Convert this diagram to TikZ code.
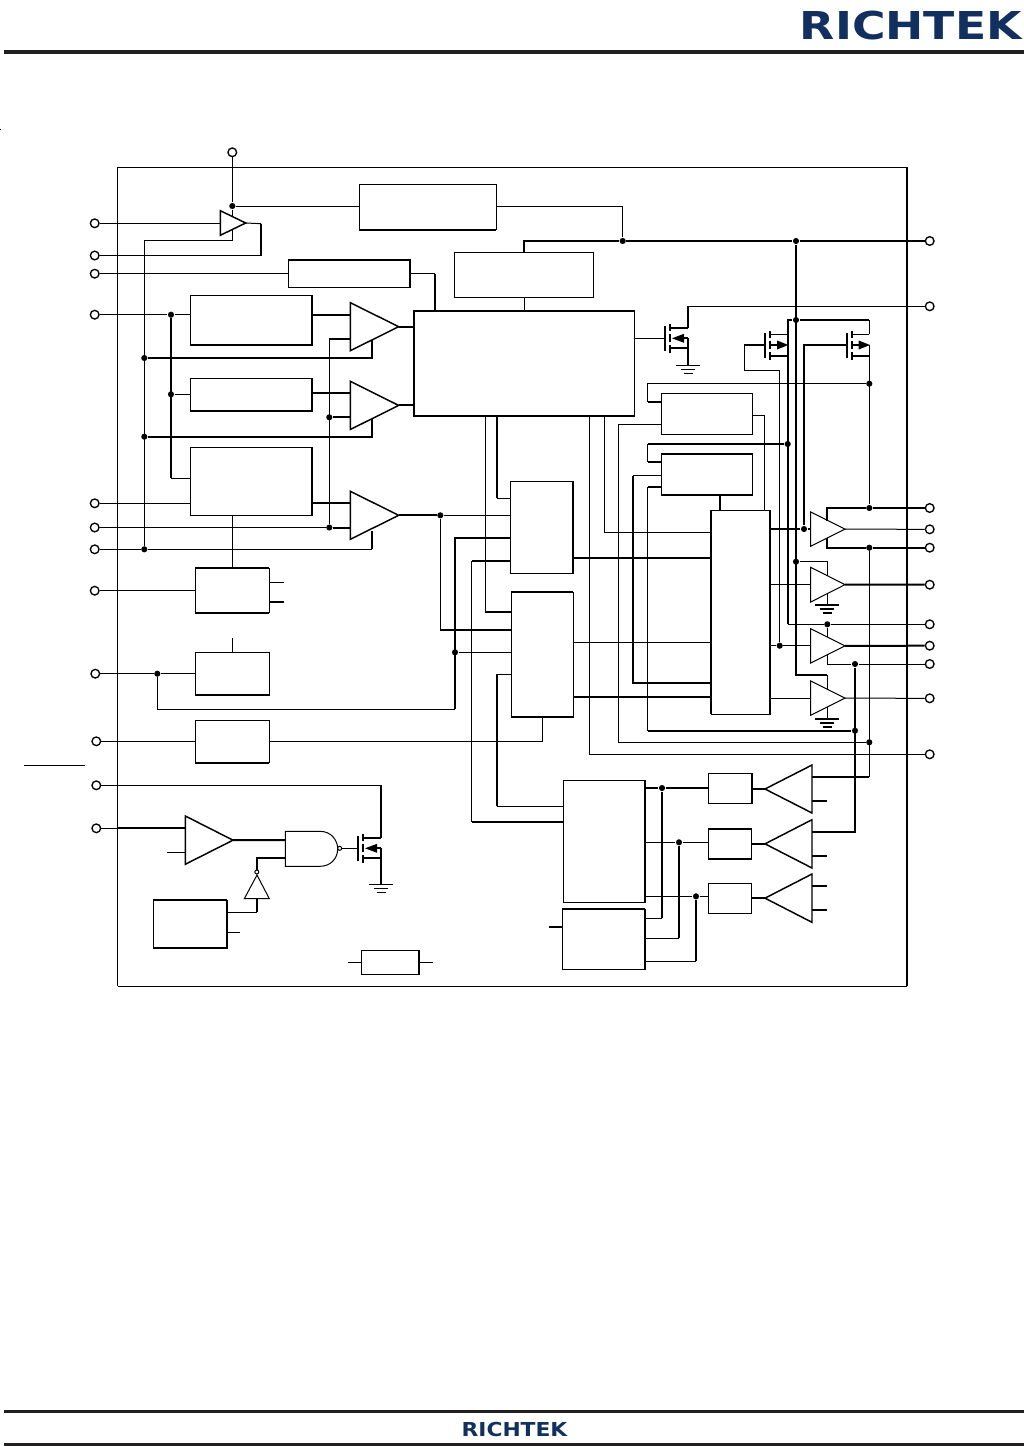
\documentclass[tikz,border=0pt]{standalone}
\usepackage{fontspec}
\newfontfamily\logofont{DejaVu Sans}[BoldFont={DejaVu Sans Bold}]
\definecolor{logonavy}{RGB}{18,48,95}
\definecolor{ruleblack}{RGB}{35,31,32}
\tikzset{every picture/.style={line width=0.75pt}}
\tikzset{
  hvy/.style={line width=1.5pt},
  mid/.style={line width=1.1pt},
  blk/.style={draw,rectangle,inner sep=0pt,outer sep=0pt},
  ghost/.style={rectangle,inner sep=0pt,outer sep=0pt},
  pin/.style={draw,circle,fill=white,inner sep=0pt,minimum size=6.5pt,line width=1pt},
  jn/.style={circle,fill=black,inner sep=0pt,minimum size=4.6pt},
  bub/.style={draw,circle,fill=white,inner sep=0pt,minimum size=3pt},
}
% boxes and amplifiers: name, x1, y1, x2, y2
\newcommand\blkbox[5]{\node[blk,minimum width={(#4-#2)*0.75pt},minimum height={(#5-#3)*0.75pt}] (#1) at ({(#2+#4)/2},{(#3+#5)/2}) {};}
\newcommand\ampbox[5]{\node[ghost,minimum width={(#4-#2)*0.75pt},minimum height={(#5-#3)*0.75pt}] (#1) at ({(#2+#4)/2},{(#3+#5)/2}) {};}
\newcommand\ampR[6][mid]{\ampbox{#2}{#3}{#4}{#5}{#6}\draw[#1] (#2.north west) -- (#2.east) -- (#2.south west) -- cycle;}
\newcommand\ampL[6][mid]{\ampbox{#2}{#3}{#4}{#5}{#6}\draw[#1] (#2.north east) -- (#2.west) -- (#2.south east) -- cycle;}
\newcommand\thickedge[1]{\draw[hvy] (#1.north east) -- (#1.south east) -- (#1.south west);}
% ground: x, y
\newcommand\gnd[3][]{\draw[#1] (#2-12,#3) -- (#2+12,#3) (#2-7,#3+4) -- (#2+7,#3+4) (#2-4.5,#3+8) -- (#2+4.5,#3+8);}
% transistor bodies: x of gate plate, y of centre
\newcommand\fetbody[2]{%
  \draw[hvy] (#1,#2-12) -- (#1,#2+13);
  \draw[hvy] (#1+5,#2-14) -- (#1+5,#2-7) (#1+5,#2-4) -- (#1+5,#2+4) (#1+5,#2+7) -- (#1+5,#2+15);}
\newcommand\fetN[2]{\fetbody{#1}{#2}
  \draw[hvy] (#1+5,#2-10.7) -- (#1+23,#2-10.7) (#1+5,#2+10) -- (#1+23,#2+10) (#1+19,#2) -- (#1+23,#2);
  \fill (#1+7,#2) -- (#1+19,#2-4.5) -- (#1+19,#2+4.5) -- cycle;}
\newcommand\fetP[2]{\fetbody{#1}{#2}
  \draw[hvy] (#1+5,#2) -- (#1+12,#2) (#1+5,#2+11) -- (#1+22.4,#2+11);
  \draw (#1+5,#2-10.7) -- (#1+22.4,#2-10.7);
  \fill (#1+23,#2) -- (#1+11.7,#2-4.5) -- (#1+11.7,#2+4.5) -- cycle;}

\begin{document}
\begin{tikzpicture}[x=0.75pt,y=0.75pt,yscale=-1,xscale=1]
\useasboundingbox (0,0) rectangle (1024,1446);

% page furniture
\fill[ruleblack] (4,50.2) rectangle (1024,54);
\fill[ruleblack] (4,1410.2) rectangle (1024,1412.8);
\fill[ruleblack] (4,1442.6) rectangle (1024,1446);
\node[text=logonavy,inner sep=0pt,xscale=1.19] (logoTop) at (910.8,26) {\logofont\bfseries\fontsize{28.8}{28.8}\selectfont RICHTEK};
\node[text=logonavy,inner sep=0pt,xscale=1.135] (logoBot) at (514.5,1429.7) {\logofont\bfseries\fontsize{14.4}{14.4}\selectfont RICHTEK};
\draw (24,765.3) -- (84.7,765.3);
\fill (0,128.6) rectangle (1.3,130);

% frame
\draw (117.5,986.3) -- (117.5,167.3) -- (907,167.3);
\draw[hvy] (907,167.3) -- (907,986.3);
\draw[mid] (907,986.3) -- (117.5,986.3);

% Blocks
\blkbox{blkBias}{359.3}{184.3}{496}{229.7}
\blkbox{blkLdo}{454.5}{252.3}{593.7}{297.3}
\blkbox{blkOsc}{288.3}{260}{410}{287}
\blkbox{blkRampA}{190.3}{295.3}{312}{345}
\blkbox{blkRampB}{190.3}{378.3}{312}{410.7}
\blkbox{blkRampC}{190.3}{447.3}{312}{515.3}
\blkbox{blkRef}{195.3}{568.3}{269.3}{612.7}
\blkbox{blkUvlo}{195.3}{652.3}{269.3}{695}
\blkbox{blkSs}{195.3}{720.3}{269.3}{762.7}
\blkbox{blkThermal}{153.3}{900}{227}{948}
\blkbox{blkRes}{361.7}{950.3}{419}{974.3}
\blkbox{blkCtl}{414}{311}{634.7}{416}
\blkbox{blkLogA}{510.3}{481.3}{573}{573.3}
\blkbox{blkLogB}{511.3}{592.3}{573.3}{717}
\blkbox{blkDrvA}{661.3}{393.3}{752.7}{434.3}
\blkbox{blkDrvB}{661.3}{454}{752.7}{495}
\blkbox{blkDrvC}{711}{510.3}{770}{714.3}
\blkbox{blkDac}{563.3}{780.3}{645}{902.3}
\blkbox{blkPwm}{562.3}{909}{645}{969.3}
\blkbox{blkOutA}{708.3}{773.3}{752.3}{803.3}
\blkbox{blkOutB}{708.3}{829}{751.7}{858.7}
\blkbox{blkOutC}{708.3}{883.3}{751.7}{913.3}
\thickedge{blkRampA}
\thickedge{blkRampB}
\draw[hvy] (blkRampC.north east) -- (blkRampC.south east);
\draw[hvy] (blkBias.south west) -- (blkBias.south east);
\draw[hvy] (blkOsc.north west) -- (blkOsc.north east) -- (blkOsc.south east);
\draw[hvy] (blkRef.north west) -- (blkRef.north east);
\draw[hvy] (blkRef.south west) -- (blkRef.south east);
\draw[hvy] (blkUvlo.south west) -- (blkUvlo.south east);
\draw[hvy] (blkSs.south west) -- (blkSs.south east);
\draw[hvy] (blkThermal.north west) -- (blkThermal.north east);
\thickedge{blkThermal}
\draw[mid] (blkRes.north east) -- (blkRes.south east) -- (blkRes.south west);
\draw[hvy] (blkCtl.north east) -- (blkCtl.north west) -- (blkCtl.south west) -- (blkCtl.south east);
\draw[hvy] (blkLogA.north east) -- (blkLogA.south east);
\draw[hvy] (blkLogB.north west) -- (blkLogB.north east);
\draw[hvy] (blkLogB.south west) -- (blkLogB.south east);
\draw[hvy] (blkDrvB.north west) -- (blkDrvB.north east);
\draw[hvy] (blkDrvB.south west) -- (blkDrvB.south east);
\draw[hvy] (blkDrvC.north east) -- (blkDrvC.south east);
\draw[hvy] (blkDrvC.north west) -- (blkDrvC.south west);
\draw[hvy] (blkDac.north east) -- (blkDac.south east);
\draw[hvy] (blkPwm.north west) -- (blkPwm.north east);
\draw[hvy] (blkPwm.north east) -- (blkPwm.south east);
\draw[hvy] (blkOutA.north east) -- (blkOutA.south east);
\draw[hvy] (blkOutB.north west) -- (blkOutB.north east);
\draw[hvy] (blkOutB.south west) -- (blkOutB.south east);

% Amplifiers
\ampR{ampS}{220.3}{210.7}{245.7}{235.3}
\ampR{cmpA}{350.3}{302.7}{398.7}{350.7}
\ampR{cmpB}{350.3}{381.3}{398.7}{429.5}
\ampR{cmpC}{350.3}{491.3}{398.7}{539.3}
\ampR{cmpD}{185.3}{816}{233}{864.3}
\ampR[draw]{bufA}{810.7}{512}{845}{546.3}
\ampR[draw]{bufB}{810.7}{567.3}{845}{602}
\ampR[draw]{bufC}{810.7}{628.7}{845}{663}
\ampR[draw]{bufD}{810.7}{681}{845}{715.3}
\ampL{drvA}{765}{765}{812}{813}
\ampL{drvB}{765}{819.7}{812}{868}
\ampL{drvC}{765}{874}{812}{922.3}

% Pins
\node[pin] (pinTop) at (232.3,152.3) {};
\node[pin] (pinA) at (94.7,223.3) {};
\node[pin] (pinB) at (94.7,255.5) {};
\node[pin] (pinC) at (94.7,273.7) {};
\node[pin] (pinD) at (94.7,314.7) {};
\node[pin] (pinE) at (94.7,503.3) {};
\node[pin] (pinF) at (94.7,527.5) {};
\node[pin] (pinG) at (94.7,549.3) {};
\node[pin] (pinH) at (94.7,590.7) {};
\node[pin] (pinI) at (95.3,673.7) {};
\node[pin] (pinJ) at (96.3,741.3) {};
\node[pin] (pinK) at (96.3,785.3) {};
\node[pin] (pinL) at (96.3,828.3) {};
\foreach \name/\ypos in {R1/241,R2/306.3,R3/508,R4/529.3,R5/547.7,R6/584.7,R7/624.3,R8/645.7,R9/664,R10/698.3,R11/754.3}
  \node[pin] (pin\name) at (929.7,\ypos) {};

% Junctions
\foreach \name/\xpos/\ypos in {jSup/232.3/206,jRail/622.7/241,jVdd/796/241,jVddB/796/320,jBusA/144.3/358,
    jBusB/144.3/436.7,jBusC/144.3/549.3,jInA/171/314.7,jInB/171/394.3,jRefA/329.3/417.3,jRefB/329.3/527.5,
    jCmp/440.3/515.3,jEn/455/652.3,jUv/157.3/673.7,jGa/662/788,jGb/679/842.3,jGc/696/896.3,jFb/869.3/383.7,
    jOutA/869.3/508,jOutB/869.3/547.7,jDrv/787.7/444,jGate/804/529,jVb/796/561.7,jTop/827.3/624.3,
    jHs/779.7/645.7,jSen/855/664,jSenB/855/730.7,jFbB/869.3/742.3}
  \node[jn] (\name) at (\xpos,\ypos) {};

% Top left wires
\draw (pinTop) -- (jSup);
\draw (jSup) -- (232.3,216.8);
\draw (jSup) -- (blkBias.west |- jSup);
\draw (blkBias.east |- jSup) -| (jRail);
\draw[hvy] (blkLdo.north) |- (jRail) -- (jVdd) -- (pinR1);
\draw (blkLdo.south) -- (blkCtl.north -| blkLdo.south);
\draw (pinA) -- (ampS.west |- pinA);
\draw (ampS.east) -- (261,223.7);
\draw[hvy] (261,223.7) -- (261,255.5);
\draw (261,255.5) -- (pinB);
\draw (232.3,229.5) |- (144.3,240.3) -- (jBusC);
\draw (pinC) -- (blkOsc.west |- pinC);
\draw (blkOsc.east |- pinC) -- (435,273.7);
\draw[hvy] (435,273.7) -- (blkCtl.north -| 435,273.7);

% Ramp inputs
\draw (pinD) -- (jInA) -- (blkRampA.west |- jInA);
\draw (jInB) -- (blkRampB.west |- jInB);
\draw[hvy] (jInA) -- (171,478.3);
\draw (171,478.3) -- (blkRampC.west |- 0,478.3);
\draw (pinE) -- (blkRampC.west |- pinE);
\draw (pinF) -- (jRefB);
\draw (pinG) -- (jBusC) -- (372,549.3);
\draw[hvy] (372,549.3) -- (372,531);

% Comparators
\draw[hvy] (blkRampA.east |- jInA) -- (cmpA.west |- jInA);
\draw[hvy] (cmpA.west |- 0,339) -- (329.3,339);
\draw (329.3,339) -- (jRefB);
\draw[hvy] (jBusA) -- (372,358) -- (372,340);
\draw[hvy] (cmpA.east) -- (cmpA.east -| blkCtl.west);
\draw[hvy] (blkRampB.east |- 0,392.7) -- (cmpB.west |- 0,392.7);
\draw[hvy] (jRefA) -- (cmpB.west |- jRefA);
\draw[hvy] (jBusB) -- (372,436.7) -- (372,419);
\draw[hvy] (cmpB.east) -- (cmpB.east -| blkCtl.west);
\draw[hvy] (blkRampC.east |- 0,502.7) -- (cmpC.west |- 0,502.7);
\draw[hvy] (jRefB) -- (cmpC.west |- jRefB);
\draw[hvy] (cmpC.east) -- (jCmp);
\draw (jCmp) -- (blkLogA.west |- jCmp);
\draw (jCmp) -- (440.3,630);
\draw[hvy] (440.3,630) -- (blkLogB.west |- 0,630);

% Reference, uvlo, soft start
\draw (blkRampC.south -| blkRef.north) -- (blkRef.north);
\draw (pinH) -- (blkRef.west |- pinH);
\draw (blkRef.east |- 0,582.3) -- (283.7,582.3);
\draw[hvy] (blkRef.east |- 0,602) -- (283.7,602);
\draw (blkUvlo.north) -- ++(0,-14.3);
\draw (pinI) -- (jUv) -- (blkUvlo.west |- jUv);
\draw (jUv) |- (455,709.3);
\draw[hvy] (455,709.3) -- (455,538) -- (blkLogA.west |- 0,538);
\draw (jEn) -- (blkLogB.west |- jEn);
\draw (pinJ) -- (blkSs.west |- pinJ);
\draw (blkSs.east |- pinJ) -| (blkLogB.south -| 542.5,0);

% Enable section
\draw (pinK) -- (381,785.3);
\draw[hvy] (381,785.3) -- (381,838);
\draw (pinL) -- (117.5,828.3);
\draw[hvy] (117.5,828.3) -- (cmpD.west |- pinL);
\draw (cmpD.west |- 0,852.3) -- ++(-18,0);
\draw[hvy] (cmpD.east) -- (285.3,840);
\ampbox{gateNand}{285.3}{831.3}{337.7}{866.3}
\draw (gateNand.north west) -- (320,831.3) .. controls (331,831.3) and (337.7,840) .. (gateNand.east)
  .. controls (337.7,858) and (331,866.3) .. (320,866.3) -- (gateNand.south west) -- cycle;
\node[bub] (bubNand) at (339.7,848.3) {};
\coordinate (fetEg) at (358,848.3);
\draw (bubNand) -- (fetEg);
\fetN{358}{848.3}
\draw[hvy] (381,848.3) -- (381,884.7);
\gnd{381}{884.7}
\draw (257,875) -- (269.3,898.7) -- (244.3,898.7) -- cycle;
\node[bub] (bubInv) at (256.8,872) {};
\draw[hvy] (bubInv) |- (gateNand.west |- 0,858);
\draw[hvy] (257,898.7) -- (257,912.3);
\draw (blkThermal.east |- 0,912.3) -- (257,912.3);
\draw (blkThermal.east |- 0,932.3) -- ++(13,0);
\draw (blkRes.west) -- ++(-14,0);
\draw (blkRes.east) -- ++(14,0);

% Control block outputs
\draw (blkCtl.east |- 0,338.3) -- (665,338.3);
\fetN{665}{338.3}
\draw[hvy] (688,327.6) -- (688,306.3);
\draw (688,306.3) -- (pinR2);
\draw[hvy] (688,338.3) -- (688,365.3);
\gnd{688}{365.3}
\draw[hvy] (blkCtl.south -| 496.7,0) -- (496.7,498.3);
\draw (496.7,498.3) -- (blkLogA.west |- 0,498.3);
\draw (blkCtl.south -| 485.3,0) -- (485.3,612);
\draw[hvy] (485.3,612) -- (blkLogB.west |- 0,612);
\draw (blkCtl.south -| 589.7,0) |- (pinR11);
\draw (blkCtl.south -| 604.3,0) |- (blkDrvC.west |- 0,532.3);

% Logic to driver
\draw[hvy] (blkLogA.east |- 0,557.7) -- (blkDrvC.west |- 0,557.7);
\draw (blkLogB.east |- 0,642.3) -- (blkDrvC.west |- 0,642.3);
\draw[hvy] (blkLogB.east |- 0,697) -- (blkDrvC.west |- 0,697);
\draw[hvy] (blkLogA.west |- 0,561) -- (471.7,561);
\draw (471.7,561) -- (471.7,821.7);
\draw[hvy] (471.7,821.7) -- (blkDac.west |- 0,821.7);
\draw (blkLogB.west |- 0,674.3) -- (496.7,674.3);
\draw[hvy] (496.7,674.3) -- (496.7,806.3);
\draw (496.7,806.3) -- (blkDac.west |- 0,806.3);

% High side switches
\draw[hvy] (jVdd) -- (796,674.7) -- (827.3,674.7);
\draw[hvy] (jVddB) -- (787.7,320) -- (787.7,624.3);
\draw (787.7,624.3) -- (jTop) -- (pinR7);
\draw[hvy] (jVddB) -- (869.3,320);
\draw (869.3,320) -- (869.3,334.3);
\fetP{765.3}{345}
\fetP{847}{345}
\draw[hvy] (744.3,345) -- (765.3,345);
\draw (744.3,345) |- (779.7,370.3) -- (jHs);
\draw[hvy] (847,345) -- (804,345) -- (jGate);
\draw (869.3,345) -- (jOutA);

% Driver logic
\draw (jFb) -- (647.7,383.7) -- (647.7,402.3);
\draw[hvy] (647.7,402.3) -- (blkDrvA.west |- 0,402.3);
\draw (blkDrvA.east |- 0,415.3) -| (blkDrvC.north -| 764.7,0);
\draw (blkDrvA.west |- 0,424.3) -| (618.3,600) |- (jFbB);
\draw[hvy] (jDrv) -- (647.7,444);
\draw (647.7,444) -- (647.7,461.7);
\draw[hvy] (647.7,461.7) -- (blkDrvB.west |- 0,461.7);
\draw (blkDrvB.west |- 0,475.7) -- (633,475.7);
\draw[hvy] (633,475.7) -- (633,682.7) -- (blkDrvC.west |- 0,682.7);
\draw[hvy] (blkDrvB.west |- 0,487) -- (647.7,487);
\draw (647.7,487) -- (647.7,730.7);
\draw[hvy] (647.7,730.7) -- (jSenB);
\draw[hvy] (blkDrvB.south -| 720,0) -- (blkDrvC.north -| 720,0);

% Output buffers
\draw[hvy] (blkDrvC.east |- jGate) -- (jGate) -- (bufA.west |- jGate);
\draw (bufA.east) -- (pinR4);
\draw[hvy] (827.3,520.5) -- (827.3,508) -- (jOutA) -- (pinR3);
\draw[hvy] (827.3,538) -- (827.3,547.7) -- (jOutB) -- (pinR5);
\draw (blkDrvC.east |- bufB.west) -- (bufB.west);
\draw[hvy] (bufB.east) -- (pinR6);
\draw (jVb) -- (827.3,561.7) -- (827.3,576);
\draw (827.3,593.5) -- (827.3,604.7);
\gnd[hvy]{827.3}{604.7}
\draw (jHs) -- (blkDrvC.east |- jHs);
\draw (jHs) -- (bufC.west |- jHs);
\draw[hvy] (bufC.east) -- (pinR8);
\draw (jTop) -- (827.3,637);
\draw (827.3,654.5) -- (827.3,664) -- (jSen) -- (pinR9);
\draw (827.3,674.7) -- (827.3,689.5);
\draw (blkDrvC.east |- bufD.west) -- (bufD.west);
\draw (bufD.east) -- (pinR10);
\draw (827.3,707) -- (827.3,718.7);
\gnd[hvy]{827.3}{718.7}
\draw (jOutB) -- (869.3,777);

% Gate drive section
\draw[hvy] (blkDac.east |- jGa) -- (jGa) -- (blkOutA.west |- jGa);
\draw (blkDac.east |- jGb) -- (jGb) -- (blkOutB.west |- jGb);
\draw (blkDac.east |- jGc) -- (jGc) -- (blkOutC.west |- jGc);
\draw[hvy] (blkOutA.east |- drvA.west) -- (drvA.west);
\draw[hvy] (blkOutB.east |- drvB.west) -- (drvB.west);
\draw[hvy] (blkOutC.east |- drvC.west) -- (drvC.west);
\draw (blkPwm.east |- 0,918.3) -- (662,918.3);
\draw[hvy] (662,918.3) -- (jGa);
\draw (blkPwm.east |- 0,938.3) -- (679,938.3);
\draw[hvy] (679,938.3) -- (jGb);
\draw (blkPwm.east |- 0,961.3) -- (696,961.3);
\draw[hvy] (696,961.3) -- (jGc);
\draw[hvy] (blkPwm.west |- 0,927) -- ++(-13,0);
\draw[hvy] (812,777) -- (869.3,777);
\draw[hvy] (812,831.7) -- (855,831.7) -- (jSen);
\foreach \ypos in {801,856,885.7,910}
  \draw[hvy] (812,\ypos) -- (826.7,\ypos);

\end{tikzpicture}
\end{document}
